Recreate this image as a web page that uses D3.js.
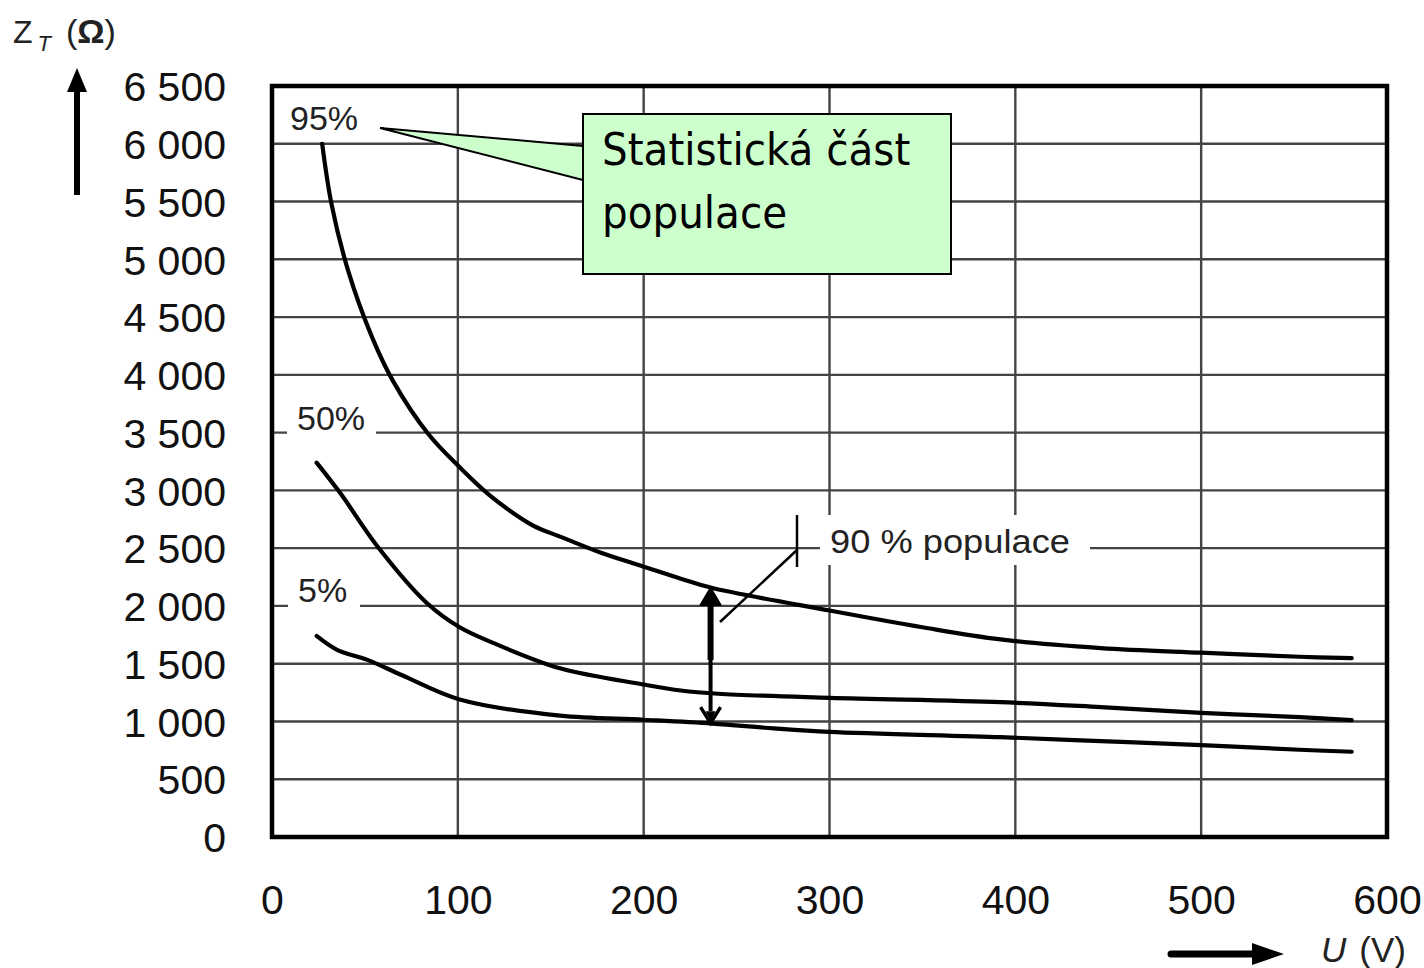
<!DOCTYPE html>
<html>
<head>
<meta charset="utf-8">
<script src="https://cdn.jsdelivr.net/npm/d3@7"></script>
<style>
  html, body { margin: 0; padding: 0; background: #fff; }
  svg { display: block; }
  .tick-label { font-family: "Liberation Sans", Arial, sans-serif; font-size: 41px; fill: #111; }
  .pct-label { font-family: "Liberation Sans", Arial, sans-serif; font-size: 34px; fill: #222; }
  .callout-text { font-family: "DejaVu Sans Condensed", "DejaVu Sans", sans-serif; font-stretch: condensed; font-size: 45px; fill: #000; }
</style>
</head>
<body>
<svg id="chart" width="1424" height="968"></svg>
<script>
// Voltage axis ticks (V) and impedance axis ticks (Ω)
const voltageTicks = [0, 100, 200, 300, 400, 500, 600];
const impedanceTicks = [0, 500, 1000, 1500, 2000, 2500, 3000, 3500, 4000, 4500, 5000, 5500, 6000, 6500];

// Body impedance Z_T against touch voltage U, per population percentile
const voltage95 = [27, 32, 41, 54, 65, 84, 101, 117, 140, 155, 177, 200, 220, 237, 300, 350, 392, 446, 500, 553, 581];
const impedance95 = [6000, 5480, 4900, 4320, 3950, 3490, 3200, 2960, 2700, 2600, 2460, 2340, 2235, 2155, 1960, 1815, 1710, 1635, 1595, 1560, 1548];

const voltage50 = [24, 37, 57, 83, 101, 119, 155, 200, 220, 240, 300, 392, 446, 500, 553, 581];
const impedance50 = [3240, 2970, 2510, 2030, 1815, 1680, 1460, 1320, 1268, 1240, 1205, 1167, 1124, 1075, 1037, 1011];

const voltage5 = [24, 35, 51, 70, 101, 155, 200, 237, 270, 300, 392, 446, 500, 553, 581];
const impedance5 = [1740, 1620, 1535, 1400, 1190, 1050, 1015, 982, 940, 910, 864, 830, 795, 755, 738];

const seriesNames = ["95%", "50%", "5%"];

// Span marked by the double arrow: 5 % to 95 % at this voltage
const spanVoltage = 236;
const spanLow = 985;
const spanHigh = 2155;

const svg = d3.select("#chart");

const x = d3.scaleLinear().domain([0, 600]).range([272, 1387]);
const y = d3.scaleLinear().domain([0, 6500]).range([837, 86]);

// Grid
const grid = svg.append("g").attr("stroke", "#444").attr("stroke-width", 2.4);
grid.selectAll("line.v").data(voltageTicks).join("line")
  .attr("x1", d => x(d)).attr("x2", d => x(d))
  .attr("y1", y(0)).attr("y2", y(6500));
grid.selectAll("line.h").data(impedanceTicks).join("line")
  .attr("x1", x(0)).attr("x2", x(600))
  .attr("y1", d => y(d)).attr("y2", d => y(d));

// Axis tick labels ("6 500" style thousands grouping)
const yAxis = d3.axisLeft(y).tickValues(impedanceTicks).tickSize(0).tickPadding(46).tickFormat(d => {
  return d >= 1000 ? Math.floor(d / 1000) + " " + String(d % 1000).padStart(3, "0") : String(d);
});
const gy = svg.append("g").attr("transform", `translate(${x(0)},0)`).call(yAxis);
gy.select(".domain").remove();
gy.selectAll("text").attr("class", "tick-label").attr("font-size", null).attr("font-family", null)
  .attr("dy", "0.36em");

const xAxis = d3.axisBottom(x).tickValues(voltageTicks).tickSize(0).tickPadding(48).tickFormat(d => String(d));
const gx = svg.append("g").attr("transform", `translate(0,${y(0)})`).call(xAxis);
gx.select(".domain").remove();
gx.selectAll("text").attr("class", "tick-label").attr("font-size", null).attr("font-family", null);

// White backing boxes behind in-plot labels (they break the grid)
const bg = svg.append("g").attr("fill", "#fff");
bg.append("rect").attr("x", 287).attr("y", 400).attr("width", 89).attr("height", 42);
bg.append("rect").attr("x", 288).attr("y", 575).attr("width", 72).attr("height", 40);
bg.append("rect").attr("x", 820).attr("y", 515).attr("width", 270).attr("height", 50);

// Frame
svg.append("rect")
  .attr("x", x(0)).attr("y", y(6500))
  .attr("width", x(600) - x(0)).attr("height", y(0) - y(6500))
  .attr("fill", "none").attr("stroke", "#000").attr("stroke-width", 4.5);

// Curves
const line = d3.line().x(d => x(d[0])).y(d => y(d[1])).curve(d3.curveCatmullRom.alpha(0.5));
const series = [
  d3.zip(voltage95, impedance95),
  d3.zip(voltage50, impedance50),
  d3.zip(voltage5, impedance5)
];
svg.append("g").selectAll("path").data(series).join("path")
  .attr("d", line)
  .attr("fill", "none").attr("stroke", "#000").attr("stroke-width", 4.2)
  .attr("stroke-linecap", "round").attr("stroke-linejoin", "round");

// Percentile labels
const pctPos = [[290, 130], [297, 430], [298, 602]];
svg.append("g").selectAll("text").data(seriesNames).join("text")
  .attr("class", "pct-label")
  .attr("x", (d, i) => pctPos[i][0]).attr("y", (d, i) => pctPos[i][1])
  .text(d => d);

// Double arrow between the 5 % and 95 % curves
const ax = x(spanVoltage);
const aTop = y(spanHigh), aBot = y(spanLow);
svg.append("line").attr("x1", ax).attr("x2", ax).attr("y1", aTop + 14).attr("y2", aTop + 72)
  .attr("stroke", "#000").attr("stroke-width", 6);
svg.append("line").attr("x1", ax).attr("x2", ax).attr("y1", aTop + 70).attr("y2", aBot - 12)
  .attr("stroke", "#000").attr("stroke-width", 4);
svg.append("path")
  .attr("d", `M${ax - 10},${aTop + 17} L${ax},${aTop} L${ax + 10},${aTop + 17} Z`)
  .attr("fill", "#000").attr("stroke", "#000").attr("stroke-width", 2).attr("stroke-linejoin", "round");
svg.append("path")
  .attr("d", `M${ax - 10},${aBot - 16} L${ax},${aBot} L${ax + 10},${aBot - 16}`)
  .attr("fill", "none").attr("stroke", "#000").attr("stroke-width", 3.5);
svg.append("path")
  .attr("d", `M${ax - 5},${aBot - 12} L${ax},${aBot - 2} L${ax + 5},${aBot - 12} Z`)
  .attr("fill", "#000");

// Leader to the "90 % populace" label
svg.append("line").attr("x1", 720).attr("y1", 622).attr("x2", 797).attr("y2", 550)
  .attr("stroke", "#000").attr("stroke-width", 2.5);
svg.append("line").attr("x1", 797).attr("y1", 515).attr("x2", 797).attr("y2", 567)
  .attr("stroke", "#000").attr("stroke-width", 2.5);
svg.append("text").attr("class", "pct-label").attr("x", 830).attr("y", 553)
  .attr("textLength", 240).attr("lengthAdjust", "spacingAndGlyphs")
  .text("90 % populace");

// Callout
svg.append("path")
  .attr("d", "M583,146 L380,128 L583,180")
  .attr("fill", "#ccffcc").attr("stroke", "#000").attr("stroke-width", 2);
svg.append("rect").attr("x", 583).attr("y", 114).attr("width", 368).attr("height", 160)
  .attr("fill", "#ccffcc").attr("stroke", "#000").attr("stroke-width", 2);
const callout = svg.append("text").attr("class", "callout-text");
callout.append("tspan").attr("x", 602).attr("y", 165).text("Statistická část");
callout.append("tspan").attr("x", 602).attr("y", 228).text("populace");

// Axis titles and arrows
const yt = svg.append("text").attr("x", 13).attr("y", 43)
  .attr("font-family", "'Liberation Sans', Arial, sans-serif").attr("fill", "#222");
yt.append("tspan").attr("font-size", 32).attr("textLength", 24).text("Z");
yt.append("tspan").attr("font-size", 22).attr("font-style", "italic").attr("dx", 5).attr("dy", 8).text("T");
yt.append("tspan").attr("font-size", 34).attr("dx", 15).attr("dy", -8).text("(");
yt.append("tspan").attr("font-size", 34).attr("font-weight", "bold").text("Ω");
yt.append("tspan").attr("font-size", 34).text(")");

svg.append("line").attr("x1", 77).attr("x2", 77).attr("y1", 195).attr("y2", 88)
  .attr("stroke", "#000").attr("stroke-width", 6);
svg.append("path").attr("d", "M67,92 L77,68 L87,92 Z").attr("fill", "#000");

const xt = svg.append("text").attr("x", 1321).attr("y", 962)
  .attr("font-family", "'Liberation Sans', Arial, sans-serif").attr("font-size", 35).attr("fill", "#222");
xt.append("tspan").attr("font-style", "italic").text("U");
xt.append("tspan").attr("dx", 13).text("(V)");

svg.append("line").attr("x1", 1171).attr("x2", 1258).attr("y1", 954).attr("y2", 954)
  .attr("stroke", "#000").attr("stroke-width", 7).attr("stroke-linecap", "round");
svg.append("path").attr("d", "M1252,943 L1284,954 L1252,965 Z").attr("fill", "#000");
</script>
</body>
</html>
